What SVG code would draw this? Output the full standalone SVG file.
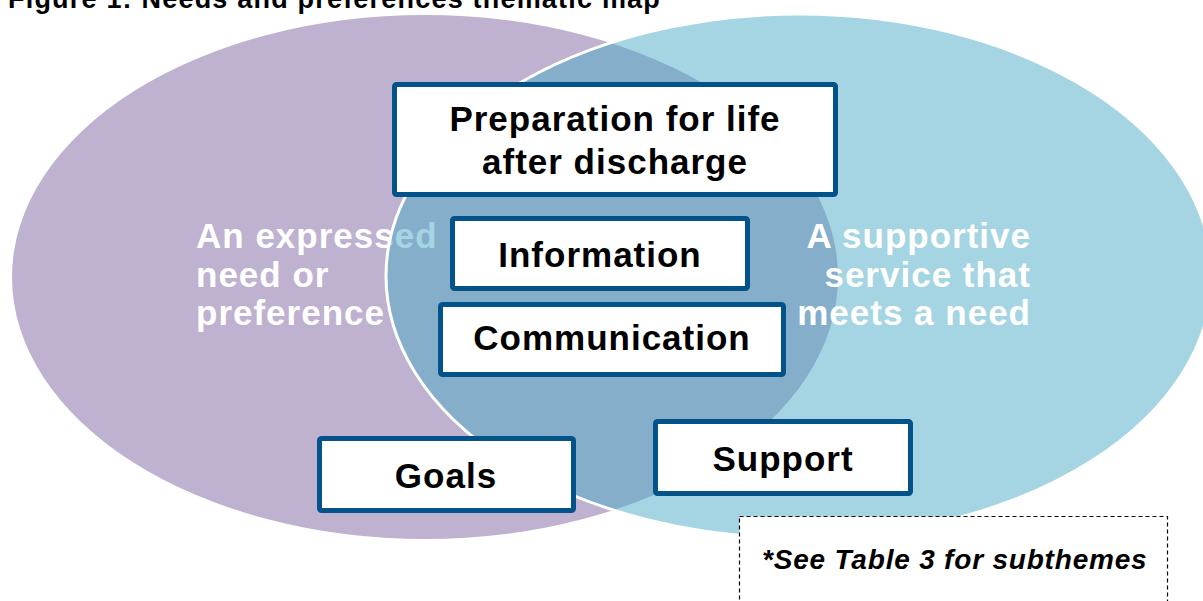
<svg xmlns="http://www.w3.org/2000/svg" width="1203" height="601" viewBox="0 0 1203 601">
  <style>
    .title { font-family: "Liberation Sans", Arial, sans-serif; font-weight: bold; font-size: 27px; letter-spacing: 1.2px; fill: #000; }
    .set { font-family: "Liberation Sans", Arial, sans-serif; font-weight: bold; font-size: 35px; letter-spacing: 1px; fill: #fff; }
    .box { fill: #fff; stroke: #03538A; stroke-width: 5; }
    .lbl { font-family: "Liberation Sans", Arial, sans-serif; font-weight: bold; font-size: 35px; letter-spacing: 1px; fill: #000; text-anchor: middle; }
    .note { font-family: "Liberation Sans", Arial, sans-serif; font-weight: bold; font-style: italic; font-size: 28px; letter-spacing: 0.8px; fill: #000; }
  </style>
  <rect width="1203" height="601" fill="#fff"/>
  <text class="title" x="8" y="8">Figure 1: Needs and preferences thematic map</text>

  <g id="set-need">
    <ellipse cx="425" cy="277" rx="413" ry="262" fill="#8064A2" fill-opacity="0.5"/>
    <text class="set" x="196" y="248">An expressed</text>
    <text class="set" x="196" y="287">need or</text>
    <text class="set" x="196" y="325">preference</text>
  </g>

  <g id="set-service">
    <ellipse cx="799" cy="276" rx="413" ry="262" fill="#4BACC6" fill-opacity="0.5" stroke="#fff" stroke-width="3"/>
    <g text-anchor="end">
      <text class="set" x="1031" y="248">A supportive</text>
      <text class="set" x="1031" y="287">service that</text>
      <text class="set" x="1031" y="325">meets a need</text>
    </g>
  </g>

  <g id="connectors"></g>

  <g id="node-preparation">
    <rect class="box" x="394.5" y="84.5" width="441" height="110" rx="2"/>
    <text class="lbl" x="615" y="131">Preparation for life</text>
    <text class="lbl" x="615" y="174">after discharge</text>
  </g>
  <g id="node-information">
    <rect class="box" x="452.5" y="218.5" width="295" height="70" rx="2"/>
    <text class="lbl" x="600" y="267">Information</text>
  </g>
  <g id="node-communication">
    <rect class="box" x="440.5" y="304.5" width="343" height="70" rx="2"/>
    <text class="lbl" x="612" y="350">Communication</text>
  </g>
  <g id="node-goals">
    <rect class="box" x="319.5" y="438.5" width="254" height="72" rx="2"/>
    <text class="lbl" x="446" y="488">Goals</text>
  </g>
  <g id="node-support">
    <rect class="box" x="655.5" y="421.5" width="255" height="72" rx="2"/>
    <text class="lbl" x="783" y="471">Support</text>
  </g>

  <g id="note">
    <rect x="739.5" y="516.5" width="428" height="100" fill="#fff" stroke="#000" stroke-width="1.2" stroke-dasharray="4 3"/>
    <text class="note" x="762" y="569">*See Table 3 for subthemes</text>
  </g>
</svg>
